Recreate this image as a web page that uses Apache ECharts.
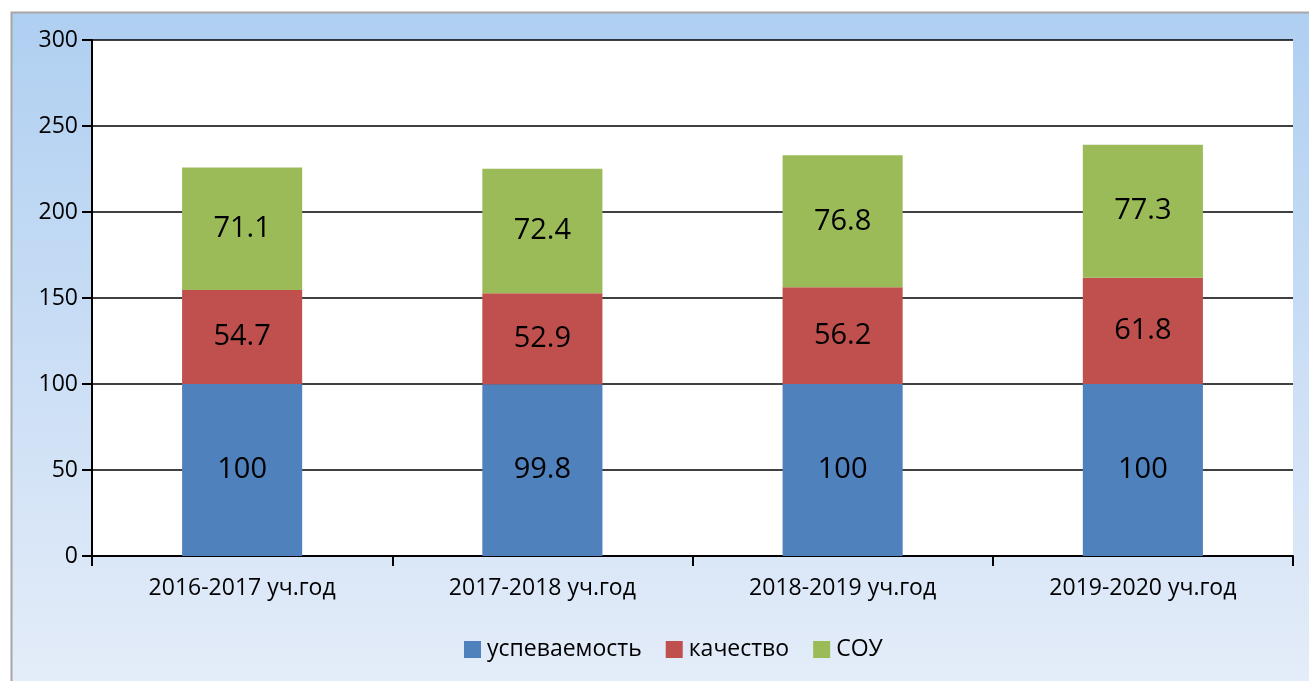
<!DOCTYPE html>
<html>
<head>
<meta charset="utf-8">
<script src="https://cdn.jsdelivr.net/npm/echarts@6/dist/echarts.min.js"></script>
<style>
html,body{margin:0;padding:0;background:#fff;}
#main{width:1309px;height:681px;}
</style>
</head>
<body>
<div id="main"></div>
<script>
// данные с диаграммы
var years = ['2016-2017 уч.год', '2017-2018 уч.год', '2018-2019 уч.год', '2019-2020 уч.год'];
var uspevaemost = [100, 99.8, 100, 100];
var kachestvo = [54.7, 52.9, 56.2, 61.8];
var sou = [71.1, 72.4, 76.8, 77.3];
var yTicks = [0, 50, 100, 150, 200, 250, 300];

var myChart = echarts.init(document.getElementById('main'));

var font = '"Open Sans", "Noto Sans", sans-serif';
var lbl = {
    show: true,
    position: 'inside',
    color: '#000',
    fontSize: 29,
    fontFamily: font
};

var option = {
    animation: false,
    graphic: [{
        type: 'rect',
        z: -10,
        shape: {x: 11.5, y: 12.5, width: 1310, height: 680},
        style: {
            fill: new echarts.graphic.LinearGradient(0, 0, 0, 1, [
                {offset: 0, color: '#afcff1'},
                {offset: 1, color: '#e5edf9'}
            ]),
            stroke: '#a6a6a6',
            lineWidth: 2
        }
    }],
    grid: {
        left: 92,
        top: 40,
        right: 16,
        bottom: 125,
        show: true,
        backgroundColor: '#fff',
        borderWidth: 0
    },
    legend: {
        bottom: 15,
        left: 459,
        itemWidth: 17,
        itemHeight: 17,
        itemGap: 24,
        icon: 'rect',
        textStyle: {fontSize: 23, color: '#000', fontFamily: font, padding: [0, 0, 0, 1]},
        data: ['успеваемость', 'качество', 'СОУ']
    },
    xAxis: {
        type: 'category',
        data: years,
        axisLine: {lineStyle: {color: '#000', width: 2}},
        axisTick: {show: true, length: 10, lineStyle: {color: '#000', width: 2}},
        axisLabel: {fontSize: 23, color: '#000', fontFamily: font, margin: 21}
    },
    yAxis: {
        type: 'value',
        min: yTicks[0],
        max: yTicks[yTicks.length - 1],
        interval: 50,
        axisLine: {show: true, lineStyle: {color: '#000', width: 2}},
        axisTick: {show: true, length: 10, lineStyle: {color: '#000', width: 2}},
        splitLine: {lineStyle: {color: '#000', width: 1.5}},
        axisLabel: {fontSize: 23, color: '#000', fontFamily: font, margin: 14}
    },
    series: [{
        name: 'успеваемость',
        type: 'bar',
        stack: 'all',
        barWidth: '40%',
        itemStyle: {color: '#4f81bd'},
        label: lbl,
        data: uspevaemost
    }, {
        name: 'качество',
        type: 'bar',
        stack: 'all',
        itemStyle: {color: '#c0504d'},
        label: lbl,
        data: kachestvo
    }, {
        name: 'СОУ',
        type: 'bar',
        stack: 'all',
        itemStyle: {color: '#9bbb59'},
        label: lbl,
        data: sou
    }]
};
myChart.setOption(option);
</script>
</body>
</html>
